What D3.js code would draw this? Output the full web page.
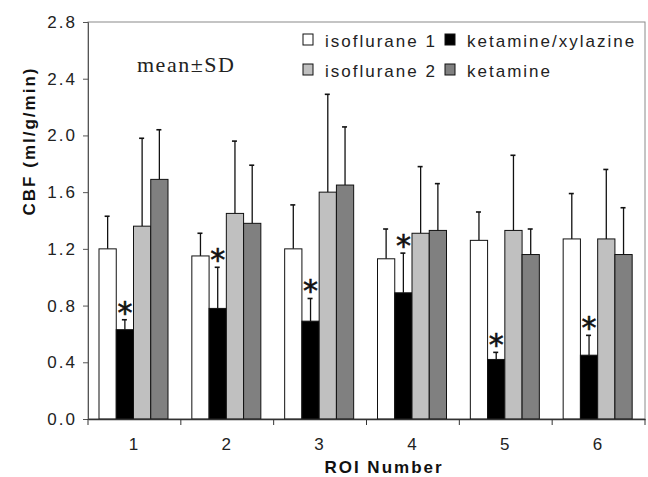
<!DOCTYPE html>
<html>
<head>
<meta charset="utf-8">
<script src="https://cdn.jsdelivr.net/npm/d3@7"></script>
<style>
  body { margin: 0; background: #fff; }
  svg { display: block; }
  .tick text, .lbl { font-family: "Liberation Sans", Arial, sans-serif; font-size: 17px; letter-spacing: 2px; fill: #222; }
  .title { font-family: "Liberation Sans", Arial, sans-serif; font-size: 17px; font-weight: bold; letter-spacing: 2px; fill: #111; }
</style>
</head>
<body>
<svg width="648" height="477"></svg>
<script>
// ROI groups and the four anaesthesia series (CBF, ml/g/min)
const rois = ['1', '2', '3', '4', '5', '6'];
const series = ['isoflurane 1', 'ketamine/xylazine', 'isoflurane 2', 'ketamine'];
const colors = ['#ffffff', '#000000', '#c0c0c0', '#808080'];

const iso1 = [1.20, 1.15, 1.20, 1.13, 1.26, 1.27];
const ketXyl = [0.63, 0.78, 0.69, 0.89, 0.42, 0.45];
const iso2 = [1.36, 1.45, 1.60, 1.31, 1.33, 1.27];
const ket = [1.69, 1.38, 1.65, 1.33, 1.16, 1.16];

// SD (upper error bar length)
const iso1Sd = [0.23, 0.16, 0.31, 0.21, 0.20, 0.32];
const ketXylSd = [0.07, 0.29, 0.16, 0.28, 0.05, 0.14];
const iso2Sd = [0.62, 0.51, 0.69, 0.47, 0.53, 0.49];
const ketSd = [0.35, 0.41, 0.41, 0.33, 0.18, 0.33];

// significance markers (*) on ketamine/xylazine
const starred = [true, true, true, true, true, true];

const yTicks = [0, 0.4, 0.8, 1.2, 1.6, 2.0, 2.4, 2.8];

const values = [iso1, ketXyl, iso2, ket];
const sds = [iso1Sd, ketXylSd, iso2Sd, ketSd];

const svg = d3.select('svg');
const plotLeft = 88, plotRight = 645, plotTop = 22, plotBottom = 419;

const x0 = d3.scaleBand().domain(rois).range([plotLeft, plotRight]);
const x1 = d3.scaleBand().domain(series).range([11, 80]);
const y = d3.scaleLinear().domain([0, 2.8]).range([plotBottom, plotTop]);

// frame
svg.append('rect')
  .attr('x', plotLeft).attr('y', plotTop)
  .attr('width', plotRight - plotLeft).attr('height', plotBottom - plotTop)
  .attr('fill', '#fff').attr('stroke', '#8a8a8a').attr('stroke-width', 1);

// bars
const groups = svg.selectAll('g.roi')
  .data(rois)
  .enter()
  .append('g')
  .attr('class', 'roi')
  .attr('transform', (d) => `translate(${x0(d)},0)`);

series.forEach((s, si) => {
  const cx = x1(s) + x1.bandwidth() / 2;
  groups.append('line')
    .attr('x1', cx).attr('x2', cx)
    .attr('y1', (d, i) => y(values[si][i]))
    .attr('y2', (d, i) => y(values[si][i] + sds[si][i]))
    .attr('stroke', '#111').attr('stroke-width', 1.3);
  groups.append('line')
    .attr('x1', cx - 3).attr('x2', cx + 2)
    .attr('y1', (d, i) => y(values[si][i] + sds[si][i]))
    .attr('y2', (d, i) => y(values[si][i] + sds[si][i]))
    .attr('stroke', '#111').attr('stroke-width', 1.6);
  groups.append('rect')
    .attr('x', x1(s))
    .attr('y', (d, i) => y(values[si][i]))
    .attr('width', x1.bandwidth())
    .attr('height', (d, i) => y(0) - y(values[si][i]))
    .attr('fill', colors[si])
    .attr('stroke', '#111').attr('stroke-width', 1);
});

// stars
groups.append('text')
  .attr('x', x1(series[1]) + x1.bandwidth() / 2)
  .attr('y', (d, i) => y(ketXyl[i] + ketXylSd[i]) + 3)
  .attr('text-anchor', 'middle')
  .style('font-family', '"DejaVu Sans", sans-serif')
  .style('font-size', '30px')
  .attr('fill', '#111')
  .attr('stroke', '#111').attr('stroke-width', 0.6)
  .text((d, i) => starred[i] ? '*' : '');

// axes
const yAxis = svg.append('g')
  .attr('transform', `translate(${plotLeft},0)`)
  .call(d3.axisLeft(y).tickValues(yTicks).tickFormat(d3.format('.1f')).tickSize(5).tickPadding(6));
yAxis.select('.domain').attr('stroke', '#555');
yAxis.selectAll('.tick line').attr('stroke', '#555');

const xAxis = svg.append('g')
  .attr('transform', `translate(0,${plotBottom})`)
  .call(d3.axisBottom(x0).tickSize(0).tickPadding(19));
xAxis.select('.domain').attr('stroke', '#333').attr('stroke-width', 1.5);

// x boundary ticks
svg.append('g').selectAll('line')
  .data(rois.concat(['end']))
  .enter()
  .append('line')
  .attr('x1', (d, i) => plotLeft + i * x0.bandwidth())
  .attr('x2', (d, i) => plotLeft + i * x0.bandwidth())
  .attr('y1', plotBottom).attr('y2', plotBottom + 6)
  .attr('stroke', '#333');

svg.selectAll('.tick text').attr('fill', '#1a1a1a');

// titles
svg.append('text')
  .attr('class', 'title')
  .attr('x', 384).attr('y', 473)
  .attr('text-anchor', 'middle')
  .text('ROI Number');

svg.append('text')
  .attr('class', 'title')
  .attr('transform', 'rotate(-90)')
  .attr('x', -141).attr('y', 35)
  .attr('text-anchor', 'middle')
  .text('CBF (ml/g/min)');

svg.append('text')
  .attr('x', 137).attr('y', 72)
  .style('font-family', '"Liberation Serif", "Times New Roman", serif')
  .style('font-size', '22px')
  .style('letter-spacing', '1.5px')
  .attr('fill', '#222')
  .text('mean±SD');

// legend
const legendPos = [[303, 34], [445, 34], [303, 64], [445, 64]];
const legend = svg.append('g');
series.forEach((s, si) => {
  const [lx, ly] = legendPos[si];
  legend.append('rect')
    .attr('x', lx).attr('y', ly).attr('width', 10).attr('height', 11)
    .attr('fill', colors[si]).attr('stroke', '#111').attr('stroke-width', 1);
  legend.append('text')
    .attr('class', 'lbl')
    .attr('x', lx + 22).attr('y', ly + 13)
    .text(s);
});
</script>
</body>
</html>
